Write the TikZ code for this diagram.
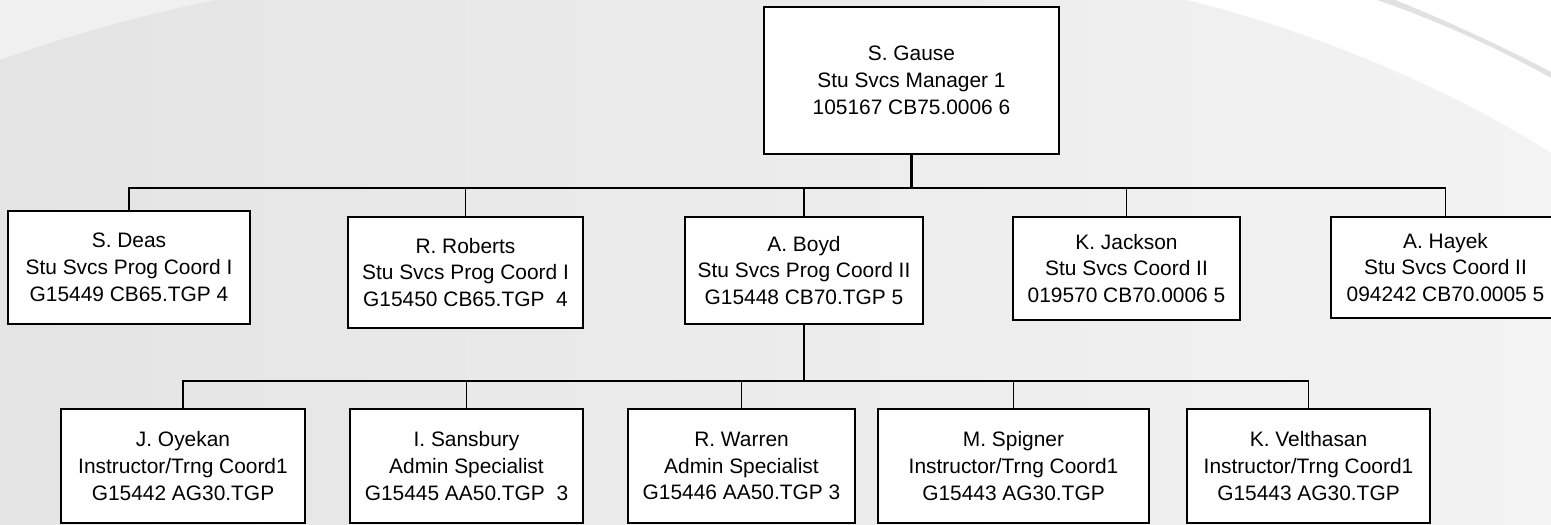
\documentclass[tikz,border=0pt]{standalone}
\usepackage{fontspec}
\setmainfont{Liberation Sans}
\usepackage{tikz}
\usepackage{xcolor}

\definecolor{bgdark}{RGB}{228,228,228}
\definecolor{bglight}{RGB}{243,243,243}
\definecolor{streak}{RGB}{225,225,225}

\tikzset{
    post/.style={draw, line width=0.7pt, fill=white, align=center, inner sep=2pt,
        font=\fontsize{11.9}{15.3}\selectfont},
    link/.style={line width=0.6pt},
    mainlink/.style={line width=1.2pt}
}

\begin{document}
\begin{tikzpicture}[x=0.02cm, y=-0.02cm]
    % Background
    \useasboundingbox (0,0) rectangle (1551,524);
    \fill[left color=bgdark, right color=bglight] (0,0) rectangle (1551,524);
    \fill[black!6] (0,0) -- (215,0) .. controls (140,15) and (60,38) .. (0,60) -- cycle;
    \fill[white] (1187,0) .. controls (1330,35) and (1470,100) .. (1551,153) -- (1551,0) -- cycle;
    \fill[streak] (1377,0) .. controls (1450,25) and (1510,55) .. (1551,78)
        -- (1551,72) .. controls (1500,45) and (1440,18) .. (1395,0) -- cycle;

    % Top box
    \node[post, minimum width=5.90cm, minimum height=2.94cm] (gause) at (911.5,80.5)
        {S. Gause\\Stu Svcs Manager 1\\105167 CB75.0006 6};

    % Second row
    \node[post, minimum width=4.84cm, minimum height=2.26cm] (deas) at (129,267.5)
        {S. Deas\\Stu Svcs Prog Coord I\\G15449 CB65.TGP 4};
    \node[post, minimum width=4.70cm, minimum height=2.22cm] (roberts) at (465.5,272.5)
        {R. Roberts\\Stu Svcs Prog Coord I\\G15450 CB65.TGP\ \ 4};
    \node[post, minimum width=4.76cm, minimum height=2.14cm] (boyd) at (804,270.5)
        {A. Boyd\\Stu Svcs Prog Coord II\\G15448 CB70.TGP 5};
    \node[post, minimum width=4.54cm, minimum height=2.06cm] (jackson) at (1126.5,268.5)
        {K. Jackson\\Stu Svcs Coord II\\019570 CB70.0006 5};
    \node[post, minimum width=4.58cm, minimum height=2.02cm] (hayek) at (1445.5,267.5)
        {A. Hayek\\Stu Svcs Coord II\\094242 CB70.0005 5};

    % Third row
    \node[post, minimum width=4.88cm, minimum height=2.28cm] (oyekan) at (183,466)
        {J. Oyekan\\Instructor/Trng Coord1\\G15442 AG30.TGP};
    \node[post, minimum width=4.66cm, minimum height=2.28cm] (sansbury) at (466.5,466)
        {I. Sansbury\\Admin Specialist\\G15445 AA50.TGP\ \ 3};
    \node[post, minimum width=4.54cm, minimum height=2.28cm] (warren) at (741.5,466)
        {R. Warren\\Admin Specialist\\G15446 AA50.TGP 3};
    \node[post, minimum width=5.42cm, minimum height=2.28cm] (spigner) at (1013.5,466)
        {M. Spigner\\Instructor/Trng Coord1\\G15443 AG30.TGP};
    \node[post, minimum width=4.86cm, minimum height=2.28cm] (velthasan) at (1308.5,466)
        {K. Velthasan\\Instructor/Trng Coord1\\G15443 AG30.TGP};

    % Connectors
    \coordinate (busone) at (911.5,188);
    \coordinate (bustwo) at (804,381);
    \draw[mainlink] (gause.south) -- (busone);
    \foreach \n in {deas,roberts,boyd,jackson,hayek}
        \draw[link] (\n.north) |- (busone);
    \draw[link] (boyd.south) -- (bustwo);
    \foreach \n in {oyekan,sansbury,warren,spigner,velthasan}
        \draw[link] (\n.north) |- (bustwo);
\end{tikzpicture}
\end{document}
